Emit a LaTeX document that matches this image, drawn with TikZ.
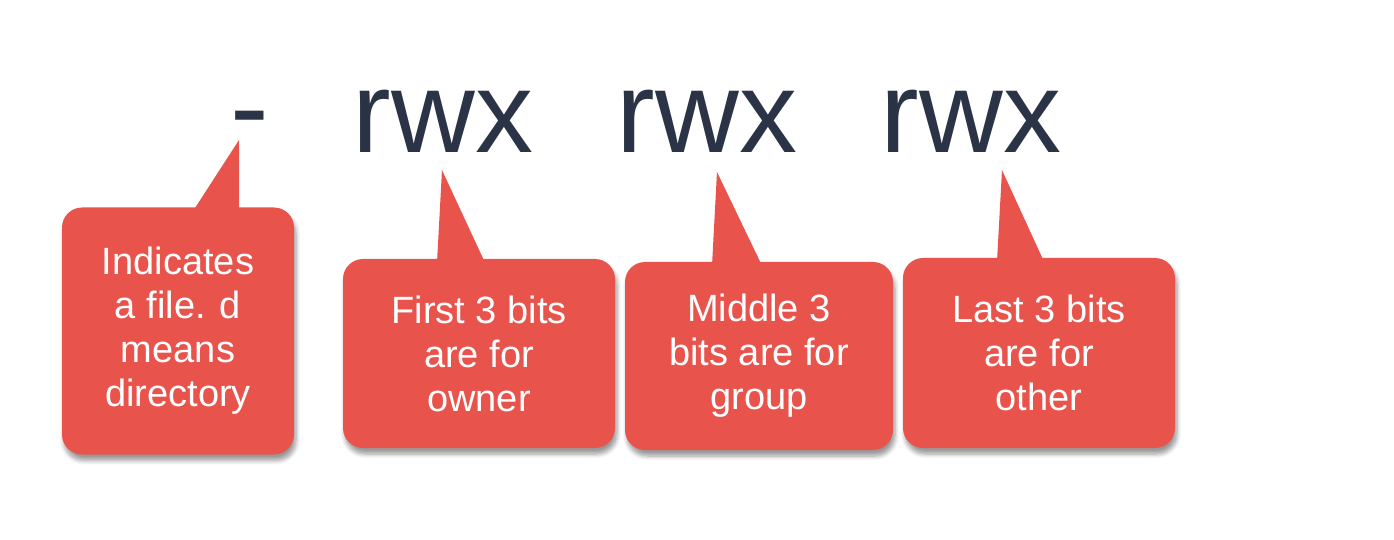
\documentclass[tikz,border=0pt]{standalone}
\usepackage{fontspec}
\setmainfont{Liberation Sans}
\usetikzlibrary{calc,shadows.blur}

\definecolor{callred}{HTML}{E8534C}
\definecolor{permink}{HTML}{2B3446}

\tikzset{
    perm/.style={font=\fontsize{58}{62}\selectfont, text=permink, inner sep=0pt, anchor=base},
    callbox/.style={fill=callred, rounded corners=10pt, text=white, align=center,
        font=\fontsize{19}{22}\selectfont,
        blur shadow={shadow xshift=1pt, shadow yshift=-3pt, shadow opacity=40, shadow blur steps=6}},
    pointer/.style={fill=callred}
}

\begin{document}
\begin{tikzpicture}[x=0.5pt,y=-0.5pt]
    \useasboundingbox (0,0) rectangle (1394,540);

    % Cadena de permisos
    \node[perm] (t) at (250,147) {-};
    \foreach \n/\x in {u/443, g/707, o/971} {
        \node[perm] (\n) at (\x,153) {rwx};
    }

    % Puntas de los globos
    \coordinate (tipt) at (239,140);
    \coordinate (tipu) at (442,170);
    \coordinate (tipg) at (717,172);
    \coordinate (tipo) at (1002,170);

    % Globos
    \node[callbox, minimum width=116pt, minimum height=123.5pt] (bt) at (178,331)
        {Indicates\\a file. d\\means\\directory};
    \node[callbox, minimum width=136pt, minimum height=94.5pt] (bu) at (479,353.5)
        {First 3 bits\\are for\\owner};
    \node[callbox, minimum width=134pt, minimum height=94pt] (bg) at (759,356)
        {Middle 3\\bits are for\\group};
    \node[callbox, minimum width=136pt, minimum height=95pt] (bo) at (1039,353)
        {Last 3 bits\\are for\\other};

    % Flechas de los globos
    \fill[pointer] (tipt) -- ($(tipt |- bt.north)+(0,4)$) -- ++(-46,0) -- cycle;
    \fill[pointer] (tipu) -- ($(tipu |- bu.north)+(-5,4)$) -- ++(48,0) -- cycle;
    \fill[pointer] (tipg) -- ($(tipg |- bg.north)+(-5,4)$) -- ++(50,0) -- cycle;
    \fill[pointer] (tipo) -- ($(tipo |- bo.north)+(-5,4)$) -- ++(47,0) -- cycle;
\end{tikzpicture}
\end{document}
